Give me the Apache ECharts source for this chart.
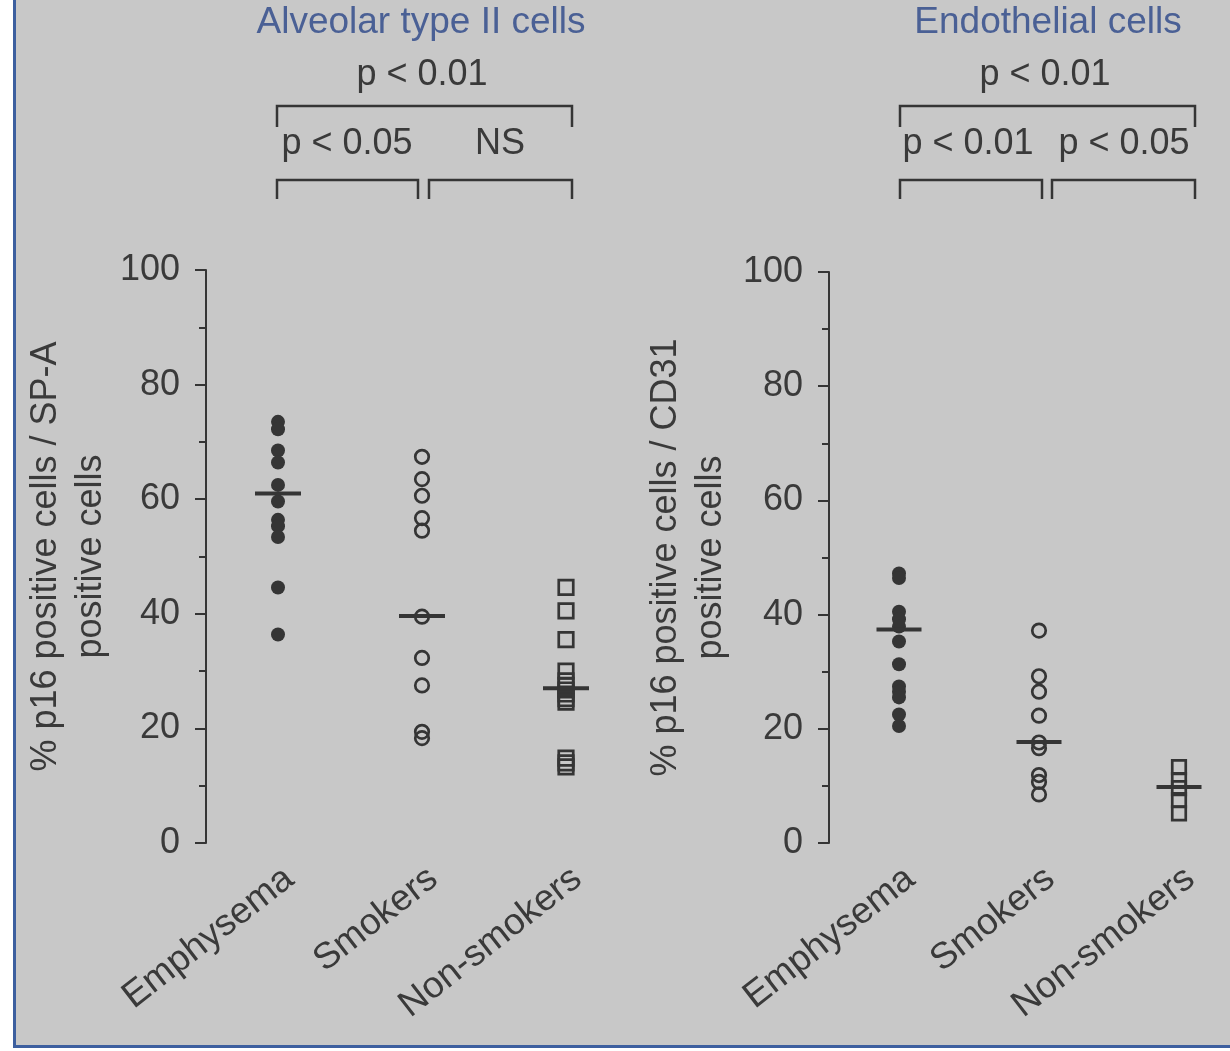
<!DOCTYPE html>
<html>
<head>
<meta charset="utf-8">
<script src="https://cdn.jsdelivr.net/npm/echarts@6/dist/echarts.min.js"></script>
<style>
html,body{margin:0;padding:0;background:#ffffff;width:1230px;height:1051px;overflow:hidden;}
#bg{position:absolute;left:13px;top:0;width:1217px;height:1045px;background:#c8c8c8;border-left:3px solid #3d5f9f;border-bottom:3px solid #3d5f9f;}
#chart{position:absolute;left:0;top:0;width:1300px;height:1051px;}
</style>
</head>
<body>
<div id="bg"></div>
<div id="chart"></div>
<script>
// ---- data ----
const categories = ['Emphysema', 'Smokers', 'Non-smokers'];
const yTicks = [0, 20, 40, 60, 80, 100];

// Alveolar type II cells (% p16 positive / SP-A positive)
const atEmphysema = [73.5, 72.2, 68.5, 66.4, 62.5, 59.6, 56.4, 55.3, 53.4, 44.6, 36.4];
const atSmokers = [67.4, 63.5, 60.6, 56.7, 54.5, 39.5, 32.3, 27.5, 19.4, 18.3];
const atNonSmokers = [44.6, 40.5, 35.5, 30.0, 28.3, 27.5, 26.7, 26.0, 25.2, 24.6, 14.8, 14.0, 13.3];
const atMedians = [61.0, 39.6, 27.0];

// Endothelial cells (% p16 positive / CD31 positive)
const ecEmphysema = [47.2, 46.4, 40.5, 39.2, 37.9, 35.3, 31.3, 27.4, 26.5, 25.5, 22.5, 20.5];
const ecSmokers = [37.2, 29.2, 26.5, 22.3, 17.6, 16.6, 11.9, 10.7, 8.5];
const ecNonSmokers = [13.3, 11.0, 9.6, 7.5, 5.2];
const ecMedians = [37.4, 17.7, 9.8];

const titles = ['Alveolar type II cells', 'Endothelial cells'];
const yNames = ['% p16 positive cells / SP-A\npositive cells', '% p16 positive cells / CD31\npositive cells'];
const pTop = ['p < 0.01', 'p < 0.01'];
const pPairs = [['p < 0.05', 'NS'], ['p < 0.01', 'p < 0.05']];

// ---- styles ----
const INK = '#353535';
const TXT = '#3a3a3a';
const BLUE = '#4a6095';
const FONT = '"Liberation Sans", Arial, Helvetica, sans-serif';

function pts(cat, vals) { return vals.map(v => [cat, v]); }

function yAxisFor(gi, name, gap) {
  return {
    type: 'value', gridIndex: gi, min: 0, max: 100, interval: 20,
    name: name, nameLocation: 'middle', nameGap: gap,
    nameTextStyle: { fontSize: 36, lineHeight: 45, color: TXT, fontFamily: FONT, align: 'center' },
    axisLine: { show: true, lineStyle: { color: INK, width: 2 } },
    axisTick: { show: true, length: 11, lineStyle: { color: INK, width: 2 } },
    minorTick: { show: true, splitNumber: 2, length: 7, lineStyle: { color: INK, width: 2 } },
    splitLine: { show: false },
    axisLabel: { fontSize: 36, color: TXT, fontFamily: FONT, margin: 26 }
  };
}
function xAxisFor(gi) {
  return {
    type: 'category', gridIndex: gi, data: categories, boundaryGap: true,
    axisLine: { show: false }, axisTick: { show: false }, splitLine: { show: false },
    axisLabel: { interval: 0, rotate: 38, fontSize: 37, color: TXT, fontFamily: FONT, margin: 17, verticalAlign: 'top' }
  };
}
function filled(xi, data) {
  return { type: 'scatter', xAxisIndex: xi, yAxisIndex: xi, data: data, symbol: 'circle', symbolSize: 14,
    itemStyle: { color: INK, opacity: 1 }, z: 3 };
}
function open(xi, data, sym, size) {
  return { type: 'scatter', xAxisIndex: xi, yAxisIndex: xi, data: data, symbol: sym, symbolSize: size,
    itemStyle: { color: 'rgba(0,0,0,0)', borderColor: INK, borderWidth: 2.7, opacity: 1 }, z: 3 };
}
function medians(xi, vals, w) {
  return { type: 'scatter', xAxisIndex: xi, yAxisIndex: xi, data: categories.map((c, i) => [c, vals[i]]),
    symbol: 'rect', symbolSize: [w, 4], itemStyle: { color: INK, opacity: 1 }, z: 4, silent: true };
}

function bracket(x1, x2, yTopPx, yBotPx) {
  return { type: 'polyline', shape: { points: [[x1, yBotPx], [x1, yTopPx], [x2, yTopPx], [x2, yBotPx]] },
    style: { stroke: INK, lineWidth: 2.5, fill: null } };
}
function txt(x, y, s, color, size) {
  return { type: 'text', x: x, y: y, style: { text: s, fill: color, font: size + 'px ' + FONT, textAlign: 'center', textVerticalAlign: 'middle' } };
}

const chart = echarts.init(document.getElementById('chart'), null, { renderer: 'canvas' });
chart.setOption({
  backgroundColor: 'transparent',
  animation: false,
  textStyle: { fontFamily: FONT },
  grid: [
    { left: 206, top: 270, width: 432, height: 573 },
    { left: 829, top: 272, width: 420, height: 571 }
  ],
  xAxis: [xAxisFor(0), xAxisFor(1)],
  yAxis: [yAxisFor(0, yNames[0], 92), yAxisFor(1, yNames[1], 95)],
  series: [
    filled(0, pts(categories[0], atEmphysema)),
    open(0, pts(categories[1], atSmokers), 'circle', 13.5),
    open(0, pts(categories[2], atNonSmokers), 'rect', 14.5),
    medians(0, atMedians, 46),
    filled(1, pts(categories[0], ecEmphysema)),
    open(1, pts(categories[1], ecSmokers), 'circle', 13.5),
    open(1, pts(categories[2], ecNonSmokers), 'rect', 13.5),
    medians(1, ecMedians, 45)
  ],
  graphic: [
    txt(421, 23, titles[0], BLUE, 37),
    txt(1048, 23, titles[1], BLUE, 37),
    txt(422, 75, pTop[0], TXT, 36),
    txt(1045, 75, pTop[1], TXT, 36),
    bracket(277, 572, 106, 127),
    bracket(900, 1195, 106, 127),
    txt(347, 144, pPairs[0][0], TXT, 36),
    txt(500, 144, pPairs[0][1], TXT, 36),
    txt(968, 144, pPairs[1][0], TXT, 36),
    txt(1124, 144, pPairs[1][1], TXT, 36),
    bracket(277, 418, 180, 199),
    bracket(429, 572, 180, 199),
    bracket(900, 1042, 180, 199),
    bracket(1052, 1195, 180, 199)
  ]
});
</script>
</body>
</html>
